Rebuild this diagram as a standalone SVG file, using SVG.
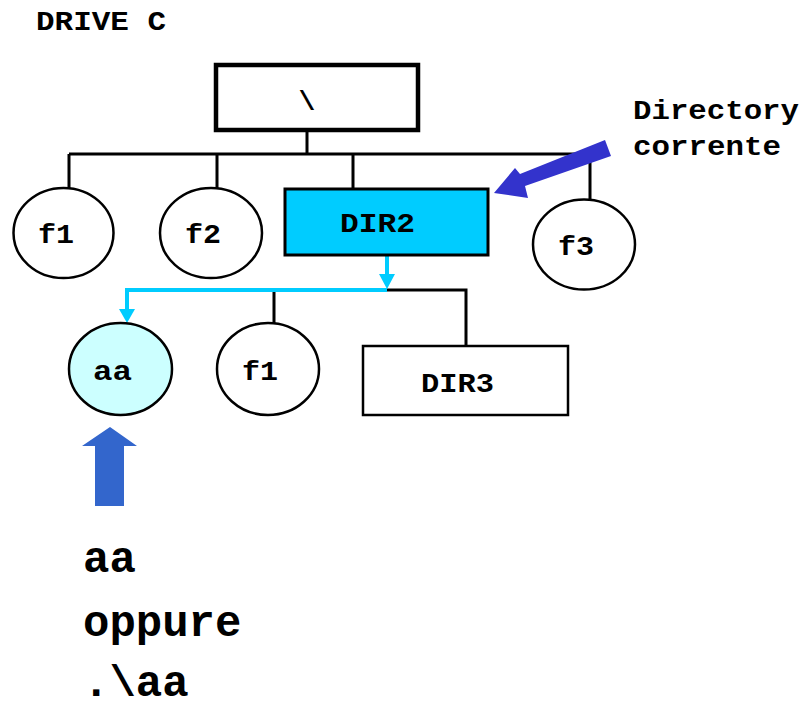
<svg xmlns="http://www.w3.org/2000/svg" width="800" height="710" viewBox="0 0 800 710">
<style>
text{font-family:"Liberation Mono","Courier New",monospace;font-weight:bold;fill:#000}
.lbl{font-size:28px}
.big{font-size:44px}
.conn{stroke:#000;stroke-width:3;fill:none}
.cy{stroke:#00CCFF;stroke-width:4;fill:none}
.node{stroke:#000;stroke-width:2.5}
</style>
<rect width="800" height="710" fill="#fff"/>
<text class="lbl" x="36" y="30" textLength="130" lengthAdjust="spacingAndGlyphs">DRIVE C</text>
<g id="connectors">
<path class="conn" d="M307 130V154M69 154H590M69 154V188M217 154V188M353 154V188M590 154V200"/>
<path class="conn" d="M386 290H466V346M274 290V324"/>
<path class="cy" d="M387 256V276M387 290H127V310"/>
<polygon points="379,274 395,274 387,289" fill="#00CCFF"/>
<polygon points="119,309 135,309 127,323" fill="#00CCFF"/>
</g>
<g id="root"><rect x="216" y="65" width="202" height="65" fill="#fff" stroke="#000" stroke-width="4.5"/>
<text class="lbl" x="307" y="110" text-anchor="middle">\</text></g>
<g id="f1a"><ellipse cx="63.5" cy="233" rx="50" ry="45" fill="#fff" class="node"/><text class="lbl" x="38" y="243" textLength="36" lengthAdjust="spacingAndGlyphs">f1</text></g>
<g id="f2"><ellipse cx="211" cy="233" rx="51" ry="45" fill="#fff" class="node"/><text class="lbl" x="185" y="243" textLength="36" lengthAdjust="spacingAndGlyphs">f2</text></g>
<g id="dir2"><rect x="285" y="189" width="203" height="66" fill="#00CCFF" stroke="#000" stroke-width="3"/><text class="lbl" x="340" y="232" textLength="75" lengthAdjust="spacingAndGlyphs">DIR2</text></g>
<g id="f3"><ellipse cx="584" cy="244.5" rx="51" ry="45" fill="#fff" class="node"/><text class="lbl" x="558" y="255" textLength="36" lengthAdjust="spacingAndGlyphs">f3</text></g>
<g id="aa"><ellipse cx="120.5" cy="369" rx="51.5" ry="46" fill="#CCFFFF" class="node"/><text class="lbl" x="93" y="380" textLength="39" lengthAdjust="spacingAndGlyphs">aa</text></g>
<g id="f1b"><ellipse cx="268" cy="369" rx="51" ry="46" fill="#fff" class="node"/><text class="lbl" x="242" y="380" textLength="36" lengthAdjust="spacingAndGlyphs">f1</text></g>
<g id="dir3"><rect x="363" y="346" width="205" height="69" fill="#fff" stroke="#000" stroke-width="2.5"/><text class="lbl" x="421" y="392" textLength="73" lengthAdjust="spacingAndGlyphs">DIR3</text></g>
<g id="current-label">
<polygon points="605,140 520,174 515,168 494,193 528,198 525,186 611,156" fill="#3333CC"/>
<text class="lbl" x="633" y="119" textLength="166" lengthAdjust="spacingAndGlyphs">Directory</text>
<text class="lbl" x="633" y="155" textLength="148" lengthAdjust="spacingAndGlyphs">corrente</text>
</g>
<g id="up-arrow"><polygon points="110,427 137,446 124,446 124,506 95,506 95,446 82,446" fill="#3366CC"/></g>
<g id="caption">
<text class="big" x="83" y="572">aa</text>
<text class="big" x="83" y="636">oppure</text>
<text class="big" x="83" y="696">.\aa</text>
</g>
</svg>
